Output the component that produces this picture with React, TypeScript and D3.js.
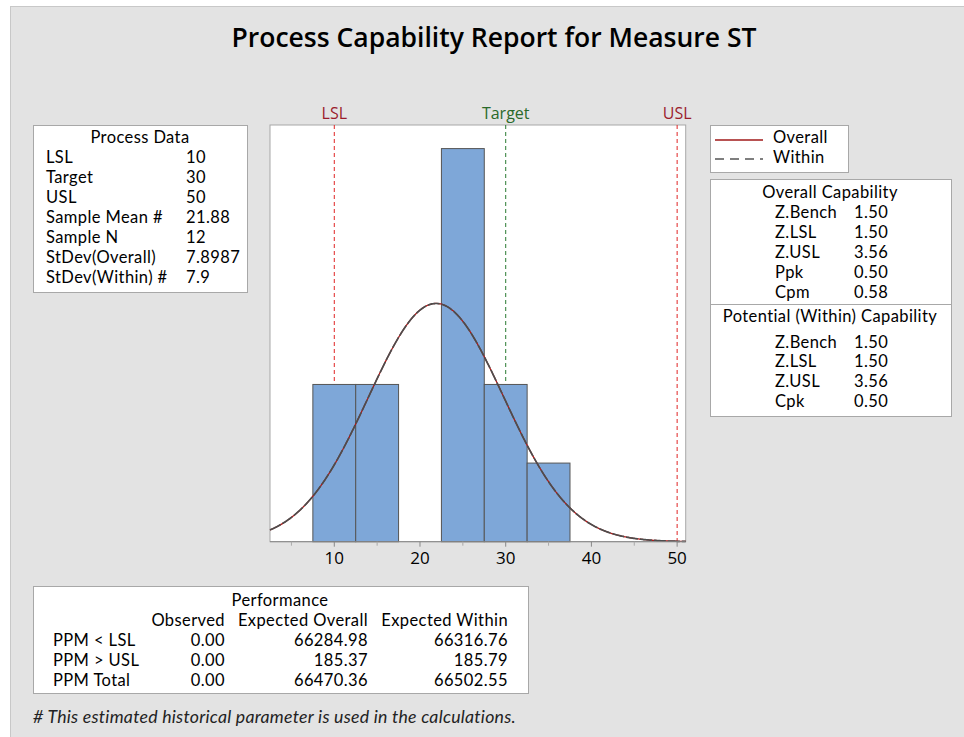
import React from "react";
import * as d3 from "d3";

// ---------- data ----------
const binEdges = [7.5, 12.5, 17.5, 22.5, 27.5, 32.5, 37.5];
const binCounts = [2, 2, 0, 5, 2, 1];
const xDomain = [2.5, 51];
const majorTicks = [10, 20, 30, 40, 50];
const minorTicks = [5, 15, 25, 35, 45];
const sampleN = 12;
const sampleMean = 21.88;
const sdOverall = 7.8987;
const sdWithin = 7.9;
const specNames = ["LSL", "Target", "USL"];
const specValues = [10, 30, 50];

const processLabels = ["LSL", "Target", "USL", "Sample Mean #", "Sample N", "StDev(Overall)", "StDev(Within) #"];
const processValues = ["10", "30", "50", "21.88", "12", "7.8987", "7.9"];

const overallLabels = ["Z.Bench", "Z.LSL", "Z.USL", "Ppk", "Cpm"];
const overallValues = ["1.50", "1.50", "3.56", "0.50", "0.58"];
const withinLabels = ["Z.Bench", "Z.LSL", "Z.USL", "Cpk"];
const withinValues = ["1.50", "1.50", "3.56", "0.50"];

const perfColumns = ["Observed", "Expected Overall", "Expected Within"];
const perfRows = ["PPM < LSL", "PPM > USL", "PPM Total"];
const perfObserved = ["0.00", "0.00", "0.00"];
const perfExpOverall = ["66284.98", "185.37", "66470.36"];
const perfExpWithin = ["66316.76", "185.79", "66502.55"];

// ---------- style ----------
const FONT = "'Open Sans', 'Noto Sans', sans-serif";
const TFONT = "Lato, 'Open Sans', sans-serif";
const TXT = "#000";

export default function App() {
  const W = 964, H = 737;
  const plot = { left: 270, top: 125, right: 685.7, bottom: 541.7 };
  const x = d3.scaleLinear().domain(xDomain).range([plot.left, plot.right]);
  const y = d3.scaleLinear().domain([0, 5.3]).range([plot.bottom, plot.top]);

  const scale = sampleN * (binEdges[1] - binEdges[0]);
  const xs = d3.range(xDomain[0], xDomain[1] + 0.001, 0.1);
  const pdf = (v: number, m: number, s: number) =>
    (scale / (s * Math.sqrt(2 * Math.PI))) * Math.exp(-0.5 * ((v - m) / s) ** 2);
  const mkPath = (s: number) =>
    d3.line<[number, number]>().x((d) => x(d[0])).y((d) => y(d[1]))(xs.map((v) => [v, pdf(v, sampleMean, s)] as [number, number])) || "";

  const specColors = ["#e02424", "#2a7a32", "#e02424"];
  const specLabelColors = ["#9b1c2c", "#2a6a2a", "#9b1c2c"];

  const T = (props: any) => (
    <text dominantBaseline="central" fontFamily={TFONT} fontSize={16.5} letterSpacing={0.4} fill={TXT} {...props} />
  );

  return (
    <svg width={W} height={H} style={{ position: "absolute", left: 0, top: 0 }} fontFamily={FONT}>
      <rect x={0} y={0} width={W} height={H} fill="#fff" />
      <rect x={10.5} y={6.5} width={W} height={H} fill="#e3e3e3" stroke="#c8c8c8" />

      <text x={494} y={37} textAnchor="middle" dominantBaseline="central" fontSize={26.5} fontWeight={600} fill="#000">
        Process Capability Report for Measure ST
      </text>

      {/* Plot */}
      <rect x={plot.left} y={plot.top} width={plot.right - plot.left} height={plot.bottom - plot.top} fill="#fff" stroke="#a8a8a8" />
      {specValues.map((v, i) => (
        <line key={"s" + i} x1={x(v)} x2={x(v)} y1={plot.top} y2={plot.bottom} stroke={specColors[i]} strokeWidth={1} strokeDasharray="4,3" />
      ))}
      {binCounts.map((c, i) =>
        c > 0 ? (
          <rect key={"b" + i} x={x(binEdges[i])} y={y(c)} width={x(binEdges[i + 1]) - x(binEdges[i])} height={y(0) - y(c)} fill="#7ea7d8" stroke="#555" strokeWidth={1} />
        ) : null
      )}
      <path d={mkPath(sdOverall)} fill="none" stroke="#b01818" strokeWidth={1.3} />
      <path d={mkPath(sdWithin)} fill="none" stroke="#4d4d4d" strokeWidth={1.7} strokeDasharray="12,2" />
      <line x1={plot.left} x2={plot.right} y1={plot.bottom} y2={plot.bottom} stroke="#888" />
      {specValues.map((v, i) => (
        <text key={"sl" + i} x={x(v)} y={113} textAnchor="middle" dominantBaseline="central" fontSize={16} fill={specLabelColors[i]}>
          {specNames[i]}
        </text>
      ))}
      {majorTicks.map((t) => (
        <g key={"t" + t}>
          <line x1={x(t)} x2={x(t)} y1={plot.bottom} y2={plot.bottom + 5} stroke="#888" />
          <text x={x(t)} y={557} textAnchor="middle" dominantBaseline="central" fontSize={17} fill={TXT}>
            {t}
          </text>
        </g>
      ))}
      {minorTicks.map((t) => (
        <line key={"m" + t} x1={x(t)} x2={x(t)} y1={plot.bottom} y2={plot.bottom + 4} stroke="#aaa" />
      ))}

      {/* Process Data */}
      <rect x={33.5} y={125.5} width={214} height={167} fill="#fff" stroke="#a8a8a8" />
      <T x={140} y={136.7} textAnchor="middle">Process Data</T>
      {processLabels.map((l, i) => (
        <g key={"p" + i}>
          <T x={46} y={156.7 + i * 20}>{l}</T>
          <T x={186} y={156.7 + i * 20}>{processValues[i]}</T>
        </g>
      ))}

      {/* Legend */}
      <rect x={710.5} y={125.5} width={138} height={47} fill="#fff" stroke="#a8a8a8" />
      <line x1={715} x2={763} y1={140} y2={140} stroke="#a01818" strokeWidth={1.5} />
      <line x1={715} x2={763} y1={159} y2={159} stroke="#555" strokeWidth={1.5} strokeDasharray="9,6" />
      <T x={773} y={136.5}>Overall</T>
      <T x={773} y={156.5}>Within</T>

      {/* Capability */}
      <rect x={710.5} y={179.5} width={241} height={237} fill="#fff" stroke="#a8a8a8" />
      <line x1={710.5} x2={951.5} y1={304.5} y2={304.5} stroke="#a8a8a8" />
      <T x={830} y={191.5} textAnchor="middle">Overall Capability</T>
      {overallLabels.map((l, i) => (
        <g key={"o" + i}>
          <T x={775} y={211.5 + i * 20.1}>{l}</T>
          <T x={854} y={211.5 + i * 20.1}>{overallValues[i]}</T>
        </g>
      ))}
      <T x={830} y={316} textAnchor="middle">Potential (Within) Capability</T>
      {withinLabels.map((l, i) => (
        <g key={"w" + i}>
          <T x={775} y={341.5 + i * 19.9}>{l}</T>
          <T x={854} y={341.5 + i * 19.9}>{withinValues[i]}</T>
        </g>
      ))}

      {/* Performance */}
      <rect x={33.5} y={586.5} width={495} height={107} fill="#fff" stroke="#a8a8a8" />
      <T x={280} y={599.5} textAnchor="middle">Performance</T>
      {perfColumns.map((c, j) => (
        <T key={"pc" + j} x={[225, 368, 508][j]} y={619.5} textAnchor="end">{c}</T>
      ))}
      {perfRows.map((r, i) => (
        <g key={"pr" + i}>
          <T x={53} y={639.5 + i * 20}>{r}</T>
          <T x={225} y={639.5 + i * 20} textAnchor="end">{perfObserved[i]}</T>
          <T x={368} y={639.5 + i * 20} textAnchor="end">{perfExpOverall[i]}</T>
          <T x={508} y={639.5 + i * 20} textAnchor="end">{perfExpWithin[i]}</T>
        </g>
      ))}

      <text x={33} y={716} dominantBaseline="central" fontFamily={TFONT} fontSize={17.7} letterSpacing={0.25} fontStyle="italic" fill="#222">
        # This estimated historical parameter is used in the calculations.
      </text>
    </svg>
  );
}
